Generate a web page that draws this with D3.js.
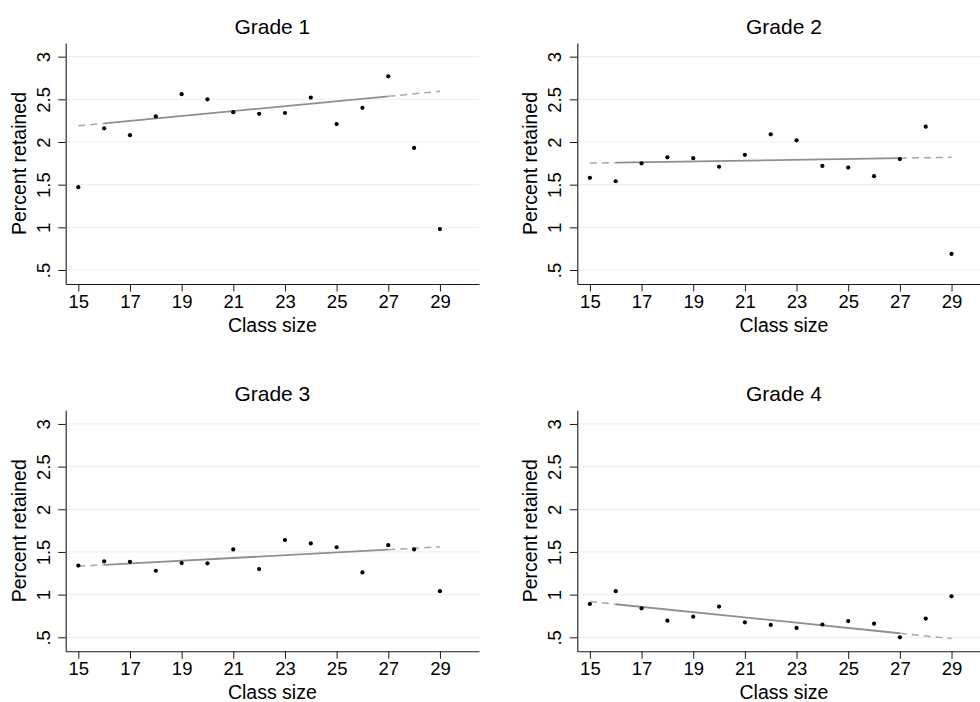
<!DOCTYPE html>
<html>
<head>
<meta charset="utf-8">
<script src="https://cdn.jsdelivr.net/npm/d3@7"></script>
<style>
  html, body { margin: 0; padding: 0; background: #ffffff; overflow: hidden; }
  svg { display: block; font-family: "Liberation Sans", Arial, Helvetica, sans-serif; }
</style>
</head>
<body>
<svg id="chart" width="980" height="702"></svg>
<script>
// ---- data ----
const classSizes = [15, 16, 17, 18, 19, 20, 21, 22, 23, 24, 25, 26, 27, 28, 29];
const grade1 = [1.47, 2.16, 2.08, 2.30, 2.56, 2.50, 2.35, 2.33, 2.34, 2.52, 2.21, 2.40, 2.77, 1.93, 0.98];
const grade2 = [1.58, 1.54, 1.75, 1.82, 1.81, 1.71, 1.85, 2.09, 2.02, 1.72, 1.70, 1.60, 1.80, 2.18, 0.69];
const grade3 = [1.34, 1.39, 1.385, 1.28, 1.37, 1.367, 1.53, 1.30, 1.64, 1.60, 1.555, 1.26, 1.58, 1.53, 1.04];
const grade4 = [0.89, 1.04, 0.84, 0.695, 0.742, 0.86, 0.676, 0.645, 0.61, 0.65, 0.69, 0.66, 0.50, 0.72, 0.98];
const panelTitles = ["Grade 1", "Grade 2", "Grade 3", "Grade 4"];
const xTicks = [15, 17, 19, 21, 23, 25, 27, 29];
const yTicks = [0.5, 1, 1.5, 2, 2.5, 3];
const yTickLabels = [".5", "1", "1.5", "2", "2.5", "3"];
const fitRange = [16, 27];      // fitted (solid) part of the linear fit
const extendRange = [15, 29];   // dashed extrapolation
const xTitle = "Class size";
const yTitle = "Percent retained";

const series = [grade1, grade2, grade3, grade4];

// ---- layout ----
const svg = d3.select("#chart");
const plotW = 413.3, plotH = 241;
const origins = [
  { x: 65.7, y: 43 },
  { x: 577.3, y: 43 },
  { x: 65.7, y: 410.3 },
  { x: 577.3, y: 410.3 }
];

function olsFit(xs, ys, lo, hi) {
  const pts = xs.map((x, i) => [x, ys[i]]).filter(p => p[0] >= lo && p[0] <= hi);
  const mx = d3.mean(pts, p => p[0]);
  const my = d3.mean(pts, p => p[1]);
  const sxy = d3.sum(pts, p => (p[0] - mx) * (p[1] - my));
  const sxx = d3.sum(pts, p => (p[0] - mx) * (p[0] - mx));
  const b = sxy / sxx;
  const a = my - b * mx;
  return x => a + b * x;
}

series.forEach((vals, k) => {
  const o = origins[k];
  const g = svg.append("g").attr("transform", `translate(${o.x},${o.y})`);

  const x = d3.scaleLinear().domain([14.512, 30.512]).range([0, plotW]);
  const y = d3.scaleLinear().domain([0.336, 3.16]).range([plotH, 0]);

  // grid lines
  g.append("g").selectAll("line").data(yTicks).join("line")
    .attr("x1", 0).attr("x2", plotW)
    .attr("y1", d => y(d)).attr("y2", d => y(d))
    .attr("stroke", "#eaf2f3").attr("stroke-width", 1.2);

  // fit line
  const f = olsFit(classSizes, vals, fitRange[0], fitRange[1]);
  const line = d3.line().x(d => x(d)).y(d => y(f(d)));
  g.append("path").datum([extendRange[0], fitRange[0]])
    .attr("d", line).attr("fill", "none")
    .attr("stroke", "#a8a8a8").attr("stroke-width", 1.5).attr("stroke-dasharray", "7,5");
  g.append("path").datum([fitRange[1], extendRange[1]])
    .attr("d", line).attr("fill", "none")
    .attr("stroke", "#a8a8a8").attr("stroke-width", 1.5).attr("stroke-dasharray", "7,5");
  g.append("path").datum(fitRange)
    .attr("d", line).attr("fill", "none")
    .attr("stroke", "#8f8f8f").attr("stroke-width", 1.8);

  // points
  g.append("g").selectAll("circle").data(classSizes).join("circle")
    .attr("cx", d => x(d)).attr("cy", (d, i) => y(vals[i]))
    .attr("r", 2.1).attr("fill", "#000");

  // x axis
  const xAxis = d3.axisBottom(x).tickValues(xTicks).tickSize(7.5).tickPadding(3).tickSizeOuter(0);
  const xg = g.append("g").attr("transform", `translate(0,${plotH})`).call(xAxis);
  xg.select(".domain").attr("stroke", "#1a1a1a").attr("stroke-width", 1.1);
  xg.selectAll(".tick line").attr("stroke", "#1a1a1a").attr("stroke-width", 1);
  xg.selectAll(".tick text")
    .attr("font-size", 18.5).attr("fill", "#000")
    .attr("font-family", "'Liberation Sans', Arial, sans-serif");

  // y axis
  const yAxis = d3.axisLeft(y).tickValues(yTicks)
    .tickFormat((d, i) => yTickLabels[i]).tickSize(7.5).tickSizeOuter(0);
  const yg = g.append("g").call(yAxis);
  yg.select(".domain").attr("stroke", "#1a1a1a").attr("stroke-width", 1.1);
  yg.selectAll(".tick line").attr("stroke", "#1a1a1a").attr("stroke-width", 1);
  yg.selectAll(".tick text")
    .attr("font-size", 18.5).attr("fill", "#000")
    .attr("font-family", "'Liberation Sans', Arial, sans-serif")
    .attr("x", null).attr("dy", null)
    .attr("text-anchor", "middle")
    .attr("transform", "translate(-16,0) rotate(-90)");

  // titles
  g.append("text")
    .attr("x", plotW / 2).attr("y", -9)
    .attr("text-anchor", "middle").attr("font-size", 21).attr("fill", "#000")
    .text(panelTitles[k]);
  g.append("text")
    .attr("x", plotW / 2).attr("y", plotH + 48)
    .attr("text-anchor", "middle").attr("font-size", 19.5).attr("fill", "#000")
    .text(xTitle);
  g.append("text")
    .attr("transform", `translate(-40,${plotH / 2}) rotate(-90)`)
    .attr("text-anchor", "middle").attr("font-size", 19.5).attr("fill", "#000")
    .text(yTitle);
});
</script>
</body>
</html>
